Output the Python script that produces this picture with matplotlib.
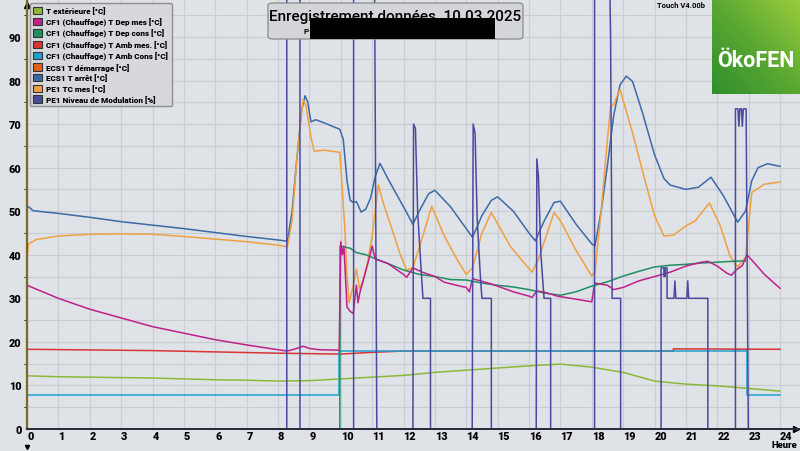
import numpy as np
import matplotlib
matplotlib.use("Agg")
import matplotlib.pyplot as plt
from matplotlib.patches import Patch, FancyBboxPatch, Rectangle

FONT = ['Roboto', 'DejaVu Sans']

# --- data (hours, values) ---
t_ext_h = [0, 1, 2, 3, 4, 5, 6, 7, 8, 9, 10, 11, 12, 13, 14, 15, 16, 17, 18, 19, 20, 21, 22, 23, 24]
t_ext_v = [12.2, 12.0, 11.9, 11.8, 11.7, 11.5, 11.3, 11.2, 11.0, 11.1, 11.5, 11.9, 12.3, 13.0, 13.5, 14.0,
           14.5, 14.9, 14.2, 13.0, 11.0, 10.3, 9.9, 9.3, 8.7]

dep_mes_h = [0, 0.5, 1, 2, 3, 4, 5, 6, 7, 8, 8.3, 8.6, 8.8, 9.0, 9.3, 9.95, 10.0, 10.05, 10.1, 10.15,
             10.2, 10.3, 10.4, 10.45, 10.5, 10.55, 10.6, 10.75, 10.9, 11.0, 11.1, 11.5, 12.0, 12.1, 12.3,
             12.6, 13.0, 13.3, 13.8, 14.0, 14.1, 14.2, 14.8, 15.5, 16.0, 16.1, 16.25, 16.5, 16.9, 17.5,
             18.0, 18.1, 18.5, 18.7, 19.0, 19.5, 20.0, 20.5, 21.0, 21.5, 21.7, 22.0, 22.3, 22.45, 22.6,
             22.8, 22.95, 23.2, 23.5, 24]
dep_mes_v = [33, 31.5, 30, 27.5, 25.5, 23.5, 22, 20.5, 19.3, 18.2, 17.9, 18.5, 19, 18.5, 18.2, 18.1, 43,
             40, 42, 35, 28, 27, 26.5, 30, 33, 29, 31, 35, 39, 42, 39, 38, 35.5, 34.8, 37, 36, 35, 33.7,
             32.8, 32.5, 31.5, 34.5, 33.3, 31.5, 30.5, 30.2, 31.7, 31.4, 30.5, 29.8, 29.2, 33.5, 33.0,
             32, 32.5, 34, 35, 36, 37.4, 38.3, 38.5, 37.4, 35.8, 35.3, 36.5, 37.5, 40, 38, 35.5, 32.3]

dep_cons_h = [0, 9.97, 9.98, 10.3, 10.5, 10.8, 11.0, 11.5, 12.0, 12.5, 13.0, 13.5, 14.0, 14.5, 15.0, 15.5,
              16.0, 16.5, 17.0, 17.5, 18.0, 18.5, 19.0, 19.5, 20.0, 20.5, 21.0, 21.5, 22.0, 22.5, 22.9]
dep_cons_v = [0, 0, 42, 41.5, 40.5, 40, 39.4, 38, 36.5, 35.5, 35, 34.3, 34.2, 33.5, 33, 32.6, 32, 31.2,
              30.7, 31.5, 32.8, 33.8, 35.1, 36.2, 37.2, 37.6, 37.8, 38.1, 38.3, 38.5, 38.6]

amb_mes_h = [0, 4, 8, 10, 11, 12, 20.6, 20.6, 24]
amb_mes_v = [18.3, 18.0, 17.4, 17.2, 17.6, 17.9, 17.9, 18.4, 18.3]

amb_cons_h = [0, 9.95, 9.95, 22.95, 22.95, 24]
amb_cons_v = [7.8, 7.8, 17.8, 17.8, 7.7, 7.7]

ecs_arret_h = [0, 0.05, 0.2, 1, 2, 3, 4, 5, 6, 7, 8, 8.3, 8.45, 8.6, 8.75, 8.86, 8.95, 9.05, 9.2, 9.5,
               9.97, 10.08, 10.2, 10.3, 10.4, 10.5, 10.65, 10.8, 10.95, 11.1, 11.25, 11.5, 12.0, 12.3,
               12.5, 12.8, 13.0, 13.5, 14.0, 14.2, 14.5, 14.8, 15.0, 15.5, 16.0, 16.2, 16.5, 16.8, 17.0,
               17.5, 18.0, 18.1, 18.3, 18.5, 18.7, 18.9, 19.1, 19.3, 19.6, 20.0, 20.3, 20.5, 21.0, 21.4,
               21.8, 22.2, 22.65, 22.9, 23.1, 23.3, 23.6, 24]
ecs_arret_v = [51.2, 51, 50.1, 49.5, 48.6, 47.6, 46.8, 46, 45.1, 44.2, 43.4, 43.1, 50, 62, 73, 76.5, 75,
               70.5, 71, 70.2, 68.8, 66.5, 57, 52.5, 52, 52.2, 49.8, 50.5, 53, 58, 61, 57.5, 51, 47, 50,
               54, 54.8, 51, 46, 44, 49, 52.5, 53.3, 50, 45, 43.2, 48, 52, 52.3, 47, 42.5, 42, 50, 60.5,
               72, 79, 81, 79.8, 73, 63, 57.5, 56, 55, 55.5, 57.8, 53.5, 47.5, 50, 57, 60, 60.9, 60.3]

tc_mes_h = [0, 0.05, 0.3, 1, 2, 3, 4, 5, 6, 7, 8, 8.3, 8.45, 8.6, 8.8, 8.9, 9.05, 9.15, 9.5, 9.97, 10.05,
            10.13, 10.2, 10.27, 10.4, 10.5, 10.6, 10.7, 10.85, 11.0, 11.2, 11.35, 11.6, 11.9, 12.1, 12.3,
            12.6, 12.9, 13.3, 13.7, 14.0, 14.2, 14.5, 14.8, 15.4, 15.8, 16.1, 16.3, 16.8, 17.0, 17.5,
            18.0, 18.1, 18.3, 18.5, 18.6, 18.7, 18.9, 19.3, 19.7, 20.0, 20.3, 20.6, 21.0, 21.3, 21.75,
            22.1, 22.4, 22.65, 22.9, 23.1, 23.5, 24]
tc_mes_v = [39.5, 42.5, 43.5, 44.3, 44.7, 44.8, 44.7, 44.2, 43.6, 43.0, 42.2, 41.8, 48, 62, 75.7, 74, 67,
            63.8, 64, 63.5, 55, 45.9, 35, 29, 33, 36.7, 32, 34, 38, 44.3, 56, 52, 46.6, 40, 36.5, 37, 44,
            51.1, 44.3, 39, 35.5, 37, 45, 49.7, 42, 38.5, 36, 39, 49.7, 47.8, 41, 35.1, 36, 50, 66.5, 74,
            74.5, 78, 68, 57, 49, 44.3, 44.5, 46.6, 47.8, 51.9, 46.6, 39.8, 37.2, 39.4, 54.3, 56.2, 56.7]

modul_h = [0, 8.28, 8.28, 8.70, 8.70, 10.41, 10.41, 11.08, 11.15, 12.30, 12.32, 12.38, 12.45, 12.55,
           12.62, 12.86, 12.86, 14.19, 14.22, 14.28, 14.35, 14.45, 14.50, 14.80, 14.80, 16.23, 16.25,
           16.30, 16.38, 16.48, 16.69, 16.69, 18.09, 18.09, 18.58, 18.60, 18.65, 18.92, 18.92, 20.21,
           20.21, 20.30, 20.30, 20.34, 20.34, 20.40, 20.40, 20.62, 20.65, 20.68, 21.03, 21.06, 21.09,
           21.70, 21.70, 22.58, 22.58, 22.66, 22.69, 22.72, 22.77, 22.80, 22.83, 22.92, 22.99, 24]
modul_v = [0, 0, 100, 100, 0, 0, 100, 100, 0, 0, 70, 69, 50, 38, 30, 30, 0, 0, 70, 68, 48, 35, 30, 30,
           0, 0, 62, 58, 40, 30, 30, 0, 0, 100, 100, 90, 30, 30, 0, 0, 37, 37, 35, 35, 37, 37, 30, 30,
           34, 30, 30, 34, 30, 30, 0, 0, 73.5, 73.5, 69.5, 73.5, 73.5, 69.5, 73.5, 73.5, 0, 0]

labels = ['T extérieure [°C]', 'CF1 (Chauffage) T Dep mes [°C]', 'CF1 (Chauffage) T Dep cons [°C]',
          'CF1 (Chauffage) T Amb mes. [°C]', 'CF1 (Chauffage) T Amb Cons [°C]', 'ECS1 T démarrage [°C]',
          'ECS1 T arrêt [°C]', 'PE1 TC mes [°C]', 'PE1 Niveau de Modulation [%]']
colors = ['#8cb83a', '#c0208c', '#1e9060', '#d83535', '#1ea0d0', '#e0641e', '#3a6aa8', '#f0a040', '#4a4aa0']

bg = '#dfe2e6'
fig = plt.figure(figsize=(8, 4.52), dpi=100, facecolor=bg)
ax = fig.add_axes([27 / 800, 22 / 452, 773 / 800, 430 / 452])
ax.set_facecolor(bg)

lw = 1.1
ax.plot(amb_mes_h, amb_mes_v, color=colors[3], lw=lw)
ax.plot(amb_cons_h, amb_cons_v, color=colors[4], lw=lw)
ax.plot(t_ext_h, t_ext_v, color=colors[0], lw=lw)
ax.plot(ecs_arret_h, ecs_arret_v, color=colors[6], lw=lw)
ax.plot(tc_mes_h, tc_mes_v, color=colors[7], lw=lw)
ax.plot(dep_cons_h, dep_cons_v, color=colors[2], lw=lw)
ax.plot(dep_mes_h, dep_mes_v, color=colors[1], lw=lw)
ax.plot(modul_h, modul_v, color=colors[8], lw=lw)

ax.set_xlim(0, 773 / 31.375)
ax.set_ylim(0, 430 / 4.356)
ax.set_xticks(range(25))
ax.set_yticks(range(0, 100, 10))
ax.set_yticks(range(0, 100, 5), minor=True)
ax.grid(True, which='both', color='#c9cdd2', lw=0.8)
ax.set_axisbelow(True)
ax.tick_params(length=0, pad=1.5)
ax.tick_params(axis='y', pad=4)
for lab in ax.get_xticklabels() + ax.get_yticklabels():
    lab.set_family(FONT)
    lab.set_fontweight('heavy')
    lab.set_fontsize(7.8)
for lab in ax.get_xticklabels():
    lab.set_horizontalalignment('left')
for s in ['top', 'right']:
    ax.spines[s].set_visible(False)
ax.spines['left'].set_color('#7a6a2a')
ax.spines['left'].set_linewidth(1.6)
ax.spines['bottom'].set_color('#2a2a3a')
ax.spines['bottom'].set_linewidth(1.4)
ax.plot([0], [97.3], marker='^', color='black', ms=4, clip_on=False)
ax.plot([24.5], [0], marker='>', color='black', ms=4, clip_on=False)
ax.plot([0], [-4.2], marker='v', color='black', ms=3, clip_on=False)
fig.text(797 / 800, 1 - 446 / 452, 'Heure', family=FONT, fontweight='heavy', fontsize=6.8,
         ha='right', va='center')

handles = [Patch(facecolor=c, edgecolor='#333333', lw=0.8) for c in colors]
leg = ax.legend(handles, labels, loc='upper left', bbox_to_anchor=(0.004, 0.99), borderaxespad=0,
                prop={'family': FONT, 'weight': 'heavy', 'size': 5.9}, handlelength=1.0, handleheight=1.0,
                handletextpad=0.6, labelspacing=0.34, borderpad=0.4, facecolor='#d6d8db',
                edgecolor='#909090', framealpha=1, fancybox=True)

# title box
fig.patches.append(FancyBboxPatch((268 / 800, 1 - 40 / 452), 255 / 800, 36 / 452,
                                  boxstyle='round,pad=0,rounding_size=0.006', transform=fig.transFigure,
                                  facecolor='#d3d5d8', edgecolor='#8a8a8a', lw=0.9, zorder=5))
fig.text(395 / 800, 1 - 17 / 452, 'Enregistrement données  10.03.2025', family=FONT, fontsize=11,
         fontweight='medium', ha='center', va='center', zorder=6)
fig.text(304 / 800, 1 - 31 / 452, 'P', family=FONT, fontweight='bold', fontsize=6, ha='left',
         va='center', zorder=6)
fig.patches.append(Rectangle((310 / 800, 1 - 40 / 452), 185 / 800, 21 / 452, transform=fig.transFigure,
                             facecolor='black', edgecolor='none', zorder=7))

# logo
lax = fig.add_axes([712 / 800, 1 - 95 / 452, 88 / 800, 95 / 452])
gx, gy = np.meshgrid(np.linspace(0, 1, 50), np.linspace(0, 1, 50))
lax.imshow((gx + (1 - gy)) / 2, cmap=matplotlib.colors.LinearSegmentedColormap.from_list(
    'g', ['#2f8f2c', '#5aa832', '#9acb3c']), aspect='auto', extent=[0, 1, 0, 1])
lax.text(0.5, 0.36, 'ÖkoFEN', color='white', family=FONT, fontweight='bold', fontsize=15.5,
         ha='center', va='center')
lax.axis('off')
fig.text(705 / 800, 1 - 5 / 452, 'Touch V4.00b', family=FONT, fontweight='bold', fontsize=5.5,
         ha='right', va='center')

fig.savefig('out.png', dpi=100, facecolor=bg)
